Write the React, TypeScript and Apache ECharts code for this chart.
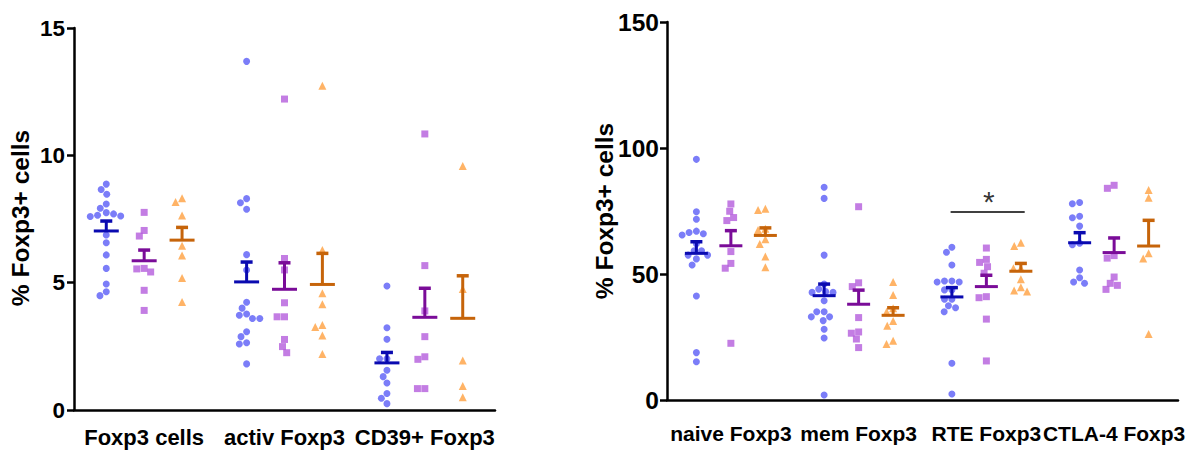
import React, { useEffect, useRef } from "react";
import * as echarts from "echarts";

const leftCategories = ["Foxp3 cells", "activ Foxp3", "CD39+ Foxp3"];
const rightCategories = ["naive Foxp3", "mem Foxp3", "RTE Foxp3", "CTLA-4 Foxp3"];
const yTitle = "% Foxp3+ cells";

// Left panel values (one list per category)
const leftBlue = [
  [8.87, 8.66, 8.47, 8.09, 7.92, 7.75, 7.7, 7.65, 7.62, 7.6, 6.87, 6.57, 6.09, 5.56, 4.95, 4.64, 4.49],
  [13.69, 8.3, 8.14, 7.88, 6.1, 5.5, 4.23, 4.0, 3.77, 3.72, 3.59, 3.59, 3.07, 2.88, 2.64, 2.59, 1.81],
  [4.87, 3.23, 2.78, 2.01, 2.01, 1.56, 1.31, 1.06, 0.65, 0.46, 0.25],
];
const leftPurple = [
  [7.76, 7.05, 6.83, 5.56, 5.54, 5.42, 4.7, 3.91],
  [12.21, 5.95, 5.5, 4.21, 3.66, 3.66, 2.77, 2.49, 2.25],
  [10.84, 5.67, 3.89, 2.88, 2.09, 1.99, 0.84, 0.84],
];
const leftOrange = [
  [8.31, 8.17, 7.64, 6.45, 6.07, 5.18, 4.24],
  [12.73, 6.28, 4.58, 4.15, 3.34, 3.26, 2.93, 2.2],
  [9.58, 4.75, 1.94, 0.94, 0.5],
];
const leftBlueMean = [7.03, 5.03, 1.85];
const leftBlueSem = [0.39, 0.78, 0.41];
const leftPurpleMean = [5.86, 4.74, 3.64];
const leftPurpleSem = [0.42, 1.04, 1.14];
const leftOrangeMean = [6.67, 4.93, 3.6];
const leftOrangeSem = [0.5, 1.22, 1.67];

// Right panel values
const rightBlue = [
  [95.5, 74.7, 71.7, 67.0, 66.5, 66.0, 65.5, 62.0, 59.2, 59.2, 57.5, 57.5, 56.0, 53.6, 41.3, 18.8, 15.2],
  [84.4, 80.0, 57.5, 46.0, 44.0, 43.0, 42.7, 42.7, 39.4, 35.0, 35.0, 33.0, 33.0, 31.5, 28.1, 24.6, 2.0],
  [60.6, 58.6, 53.6, 47.2, 47.2, 46.8, 46.8, 43.7, 43.7, 40.0, 40.0, 37.4, 36.6, 35.0, 14.6, 2.4],
  [78.4, 77.9, 72.9, 72.3, 69.0, 62.2, 61.6, 51.6, 48.5, 46.8, 46.3],
];
const rightPurple = [
  [77.8, 74.9, 72.4, 71.2, 58.9, 54.2, 52.3, 22.5],
  [76.7, 46.5, 45.0, 32.7, 27.0, 26.5, 24.2, 20.8],
  [60.3, 55.8, 54.6, 52.9, 50.3, 41.0, 40.6, 32.1, 15.5],
  [85.2, 84.0, 57.3, 56.3, 48.8, 46.3, 45.5, 43.9],
];
const rightOrange = [
  [75.9, 75.4, 68.0, 67.5, 63.8, 61.9, 56.9, 52.7],
  [46.8, 41.7, 36.4, 35.0, 31.3, 29.5, 23.5, 22.2],
  [62.4, 61.1, 52.3, 52.3, 47.9, 44.7, 43.5, 43.1],
  [83.3, 80.3, 58.2, 56.2, 26.2],
];
const rightBlueMean = [58.2, 41.4, 40.9, 62.4];
const rightBlueSem = [4.6, 4.6, 3.7, 4.0];
const rightPurpleMean = [61.2, 38.0, 45.0, 58.5];
const rightPurpleSem = [6.0, 5.6, 4.5, 5.8];
const rightOrangeMean = [65.3, 33.6, 51.1, 61.1];
const rightOrangeSem = [3.0, 3.0, 3.1, 10.2];

// significance bracket in right panel
const sigCategory = 2;
const sigLevel = 74.6;
const sigLabel = "*";

const FONT = "'Liberation Sans', Arial, sans-serif";
const groups = [
  { symbol: "circle", point: "#5a5cf6", bar: "#0a0ab0" },
  { symbol: "rect", point: "#b45cdc", bar: "#7a0c98" },
  { symbol: "triangle", point: "#ffa040", bar: "#c6640a" },
];
const OFFSET = 0.27;

function beeswarm(values: number[], pxPerY: number, D: number): number[] {
  const placed: { x: number; y: number }[] = [];
  const out: number[] = new Array(values.length).fill(0);
  const order = values.map((_, i) => i).sort((a, b) => values[b] - values[a]);
  for (const i of order) {
    const y = values[i] * pxPerY;
    const cands = [0];
    for (const p of placed) {
      const dy = Math.abs(p.y - y);
      if (dy < D) {
        const w = Math.sqrt(D * D - dy * dy);
        cands.push(p.x + w, p.x - w);
      }
    }
    cands.sort((a, b) => Math.abs(a) - Math.abs(b) || a - b);
    let chosen = 0;
    for (const c of cands) {
      if (placed.every((p) => (p.x - c) ** 2 + (p.y - y) ** 2 >= D * D - 1e-6)) {
        chosen = c;
        break;
      }
    }
    placed.push({ x: chosen, y });
    out[i] = chosen;
  }
  return out;
}

function panelSeries(
  data: number[][][],
  means: number[][],
  sems: number[][],
  xAxisIndex: number,
  yAxisIndex: number,
  pxPerX: number,
  pxPerY: number,
  meanHalf: number
) {
  const series: any[] = [];
  data.forEach((cats, g) => {
    const pts: number[][] = [];
    cats.forEach((vals, c) => {
      const dx = beeswarm(vals, pxPerY, 7.4);
      vals.forEach((v, k) => pts.push([c + (g - 1) * OFFSET + dx[k] / pxPerX, v]));
    });
    series.push({
      type: "scatter",
      xAxisIndex,
      yAxisIndex,
      symbol: groups[g].symbol,
      symbolSize: groups[g].symbol === "triangle" ? 8 : 7,
      itemStyle: { color: groups[g].point },
      data: pts,
      z: 2,
    });
    const color = groups[g].bar;
    series.push({
      type: "custom",
      xAxisIndex,
      yAxisIndex,
      z: 3,
      data: means[g].map((m, c) => [c + (g - 1) * OFFSET, m, sems[g][c]]),
      encode: { x: 0, y: 1 },
      renderItem: (params: any, api: any) => {
        const x = api.value(0);
        const m = api.value(1);
        const s = api.value(2);
        const pm = api.coord([x, m]);
        const pt = api.coord([x, m + s]);
        const st = { stroke: color, lineWidth: 3 };
        return {
          type: "group",
          children: [
            { type: "line", shape: { x1: pm[0] - meanHalf, y1: pm[1], x2: pm[0] + meanHalf, y2: pm[1] }, style: st },
            { type: "line", shape: { x1: pm[0], y1: pm[1], x2: pt[0], y2: pt[1] }, style: st },
            { type: "line", shape: { x1: pt[0] - 6, y1: pt[1], x2: pt[0] + 6, y2: pt[1] }, style: { stroke: color, lineWidth: 3.5 } },
          ],
        };
      },
    });
  });
  return series;
}

const axisLineStyle = { color: "#000", width: 2.5 };
const labelStyle = { color: "#000", fontSize: 22, fontWeight: "bold" as const, fontFamily: FONT };

export default function App() {
  const ref = useRef<HTMLDivElement>(null);
  useEffect(() => {
    if (!ref.current) return;
    const chart = echarts.init(ref.current, undefined, { renderer: "svg" });
    const L = { left: 74, top: 28, width: 421, height: 382 };
    const R = { left: 667, top: 22, width: 511, height: 378 };
    const series = [
      ...panelSeries(
        [leftBlue, leftPurple, leftOrange],
        [leftBlueMean, leftPurpleMean, leftOrangeMean],
        [leftBlueSem, leftPurpleSem, leftOrangeSem],
        1, 0, L.width / leftCategories.length, L.height / 15, 12.5
      ),
      ...panelSeries(
        [rightBlue, rightPurple, rightOrange],
        [rightBlueMean, rightPurpleMean, rightOrangeMean],
        [rightBlueSem, rightPurpleSem, rightOrangeSem],
        3, 1, R.width / rightCategories.length, R.height / 150, 11.5
      ),
      {
        type: "line",
        xAxisIndex: 3,
        yAxisIndex: 1,
        symbol: "none",
        lineStyle: { color: "#000", width: 1.5 },
        data: [
          [sigCategory - OFFSET - 0.01, sigLevel],
          [sigCategory + OFFSET + 0.03, sigLevel],
        ],
        z: 4,
      },
      {
        type: "scatter",
        xAxisIndex: 3,
        yAxisIndex: 1,
        symbolSize: 0,
        data: [[sigCategory + 0.02, sigLevel]],
        label: {
          show: true,
          formatter: sigLabel,
          position: "top",
          distance: -4,
          color: "#000",
          fontSize: 30,
          fontFamily: FONT,
        },
        z: 4,
      },
    ];
    chart.setOption({
      animation: false,
      backgroundColor: "#fff",
      grid: [
        { ...L, containLabel: false },
        { ...R, containLabel: false },
      ],
      xAxis: [
        {
          type: "category",
          gridIndex: 0,
          data: leftCategories,
          axisLine: { onZero: false, lineStyle: axisLineStyle },
          axisTick: { alignWithLabel: true, length: 9, lineStyle: axisLineStyle },
          axisLabel: { ...labelStyle, margin: 16, interval: 0 },
          splitLine: { show: false },
        },
        { type: "value", gridIndex: 0, min: -0.5, max: leftCategories.length - 0.5, show: false, splitLine: { show: false } },
        {
          type: "category",
          gridIndex: 1,
          data: rightCategories,
          axisLine: { onZero: false, lineStyle: axisLineStyle },
          axisTick: { alignWithLabel: true, length: 9, lineStyle: axisLineStyle },
          axisLabel: { ...labelStyle, fontSize: 21, margin: 23, interval: 0 },
          splitLine: { show: false },
        },
        { type: "value", gridIndex: 1, min: -0.5, max: rightCategories.length - 0.5, show: false, splitLine: { show: false } },
      ],
      yAxis: [
        {
          type: "value",
          gridIndex: 0,
          min: 0,
          max: 15,
          interval: 5,
          axisLine: { show: true, onZero: false, lineStyle: axisLineStyle },
          axisTick: { show: true, length: 7, lineStyle: axisLineStyle },
          axisLabel: { ...labelStyle, fontSize: 22.5, margin: 9 },
          splitLine: { show: false },
        },
        {
          type: "value",
          gridIndex: 1,
          min: 0,
          max: 150,
          interval: 50,
          axisLine: { show: true, onZero: false, lineStyle: axisLineStyle },
          axisTick: { show: true, length: 7, lineStyle: axisLineStyle },
          axisLabel: { ...labelStyle, fontSize: 24.5, margin: 8 },
          splitLine: { show: false },
        },
      ],
      graphic: [
        {
          type: "text",
          x: 20,
          y: 218,
          rotation: Math.PI / 2,
          style: { text: yTitle, ...labelStyle, fontSize: 24.5, textAlign: "center", textVerticalAlign: "middle", fill: "#000" },
        },
        {
          type: "text",
          x: 604,
          y: 211,
          rotation: Math.PI / 2,
          style: { text: yTitle, ...labelStyle, fontSize: 24.5, textAlign: "center", textVerticalAlign: "middle", fill: "#000" },
        },
      ],
      series,
    });
    return () => chart.dispose();
  }, []);
  return (
    <div
      ref={ref}
      style={{ position: "absolute", left: 0, top: 0, width: 1196, height: 454, background: "#fff" }}
    />
  );
}
